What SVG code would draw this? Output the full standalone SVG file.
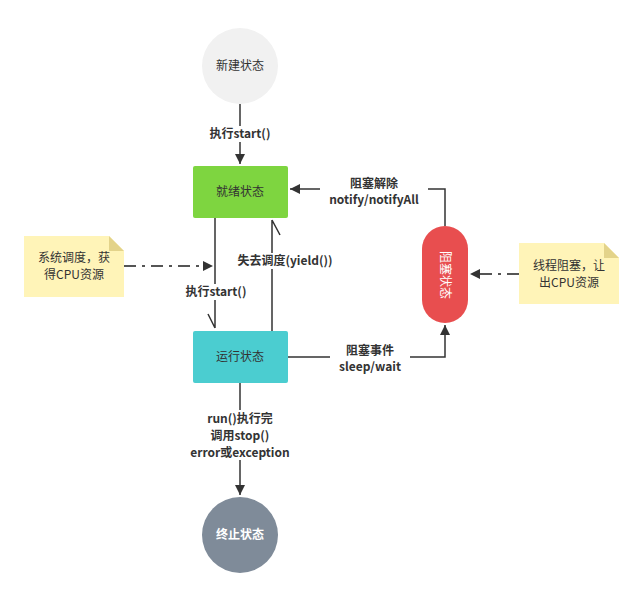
<svg xmlns="http://www.w3.org/2000/svg" width="644" height="601" viewBox="0 0 644 601">
<style>
text{font-family:"Noto Sans CJK SC","Liberation Sans",sans-serif;font-size:12px;fill:#333;text-anchor:middle}
.b{font-weight:bold}
.w{fill:#fff}
.ln{fill:none;stroke:#333;stroke-width:1.5}
.dash{fill:none;stroke:#555;stroke-width:2;stroke-dasharray:12,6,3,6}
.note{fill:#fff4b8}
.fold{fill:#e3d38a}
</style>
<defs>
<marker id="a" viewBox="0 0 10 10" refX="10" refY="5" markerWidth="10" markerHeight="10" markerUnits="userSpaceOnUse" orient="auto"><path d="M0,0L10,5L0,10Z" fill="#333"/></marker>
</defs>
<rect width="644" height="601" fill="#fff"/>
<g id="new"><circle cx="240" cy="66" r="38" fill="#f1f1f1"/><text x="240" y="70">新建状态</text></g>
<g id="ready"><rect x="193" y="166" width="95" height="52" rx="2" fill="#7ed540"/><text x="240" y="196">就绪状态</text></g>
<g id="running"><rect x="193" y="331" width="95" height="52" rx="2" fill="#4bcdd0"/><text x="240" y="361">运行状态</text></g>
<g id="blocked"><rect x="422" y="226" width="46" height="97" rx="23" fill="#e84e4f"/><text class="w" transform="translate(445,275) rotate(90)" y="4">阻塞状态</text></g>
<g id="end"><circle cx="240" cy="535" r="38" fill="#7f8b99"/><text class="b w" x="240" y="539">终止状态</text></g>
<g id="note1"><path class="note" d="M24,236H109L124,251V297H24Z"/><path class="fold" d="M109,236L124,251H109Z"/><text x="74" y="262">系统调度，获</text><text x="74" y="279">得CPU资源</text></g>
<g id="note2"><path class="note" d="M519,243H604L619,258V304H519Z"/><path class="fold" d="M604,243L619,258H604Z"/><text x="569" y="270">线程阻塞，让</text><text x="569" y="287">出CPU资源</text></g>
<g id="connectors">
<path class="ln" d="M240,104V164" marker-end="url(#a)"/>
<rect x="205" y="126" width="70" height="16" fill="#fff"/><text class="b" x="240" y="138">执行start()</text>
<path class="ln" d="M215,218V328M208,314L215,328"/>
<path class="ln" d="M272,331V220M280,235L272,220"/>
<rect x="218" y="253" width="134" height="16" fill="#fff"/><text class="b" x="285" y="265">失去调度(yield())</text>
<rect x="180" y="284" width="72" height="16" fill="#fff"/><text class="b" x="216" y="296">执行start()</text>
<path class="ln" d="M445,226V189H290" marker-end="url(#a)"/>
<rect x="320" y="175" width="108" height="32" fill="#fff"/><text class="b" x="374" y="188">阻塞解除</text><text class="b" x="374" y="204">notify/notifyAll</text>
<path class="ln" d="M288,357H445V325" marker-end="url(#a)"/>
<rect x="330" y="342" width="80" height="32" fill="#fff"/><text class="b" x="370" y="355">阻塞事件</text><text class="b" x="370" y="371">sleep/wait</text>
<path class="ln" d="M240,383V495" marker-end="url(#a)"/>
<rect x="185" y="410" width="112" height="50" fill="#fff"/><text class="b" x="240" y="423">run()执行完</text><text class="b" x="240" y="440">调用stop()</text><text class="b" x="240" y="457">error或exception</text>
<path class="dash" d="M124,266H203"/><path d="M203,261L213,266L203,271Z" fill="#333"/>
<path class="dash" d="M519,274H480"/><path d="M480,269L470,274L480,279Z" fill="#333"/>
</g>
</svg>
